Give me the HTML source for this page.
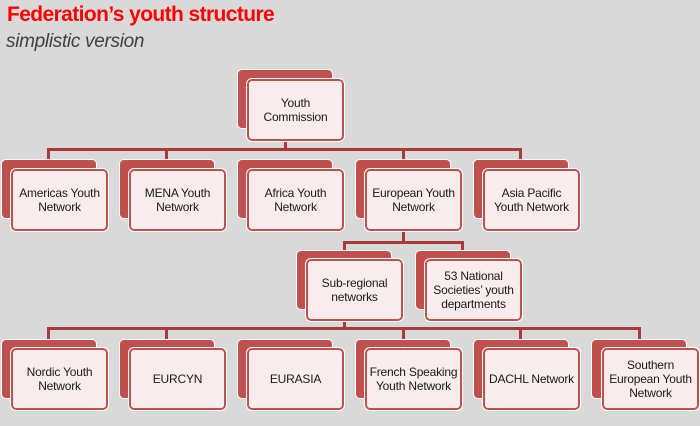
<!DOCTYPE html>
<html><head><meta charset="utf-8"><style>
body{margin:0;width:700px;height:426px;background:#d9d9d9;position:relative;overflow:hidden;font-family:"Liberation Sans",sans-serif}
.t1{position:absolute;left:7px;top:3px;font-size:21px;font-weight:bold;color:#ff0000;letter-spacing:-0.6px}
.t2{position:absolute;left:6px;top:31px;font-size:19px;font-style:italic;color:#404040;letter-spacing:-0.3px}
.b{position:absolute;width:94px;height:58px;background:#c0504d;border:1.5px solid #fff;border-radius:5px}
.f{position:absolute;width:93px;height:58px;background:#f8ecec;border:2px solid #c0504d;outline:1.5px solid #fff;border-radius:5px;display:flex;align-items:center;justify-content:center;text-align:center;font-size:12px;line-height:14px;color:#1a1a1a;letter-spacing:-0.2px}
.l{position:absolute;background:#a83a38}
</style></head><body>
<div class="t1">Federation’s youth structure</div>
<div class="t2">simplistic version</div>

<div class="l" style="left:47px;top:148px;width:474px;height:3px"></div>
<div class="l" style="left:284px;top:139px;width:3px;height:12px"></div>
<div class="l" style="left:47px;top:148px;width:3px;height:12px"></div>
<div class="l" style="left:165px;top:148px;width:3px;height:12px"></div>
<div class="l" style="left:402px;top:148px;width:3px;height:12px"></div>
<div class="l" style="left:519px;top:148px;width:3px;height:12px"></div>

<div class="l" style="left:343px;top:241px;width:121px;height:3px"></div>
<div class="l" style="left:402px;top:229px;width:3px;height:14px"></div>
<div class="l" style="left:343px;top:241px;width:3px;height:11px"></div>
<div class="l" style="left:461px;top:241px;width:3px;height:11px"></div>

<div class="l" style="left:47px;top:327px;width:594px;height:3px"></div>
<div class="l" style="left:343px;top:318px;width:3px;height:11px"></div>
<div class="l" style="left:47px;top:327px;width:3px;height:13px"></div>
<div class="l" style="left:165px;top:327px;width:3px;height:13px"></div>
<div class="l" style="left:402px;top:327px;width:3px;height:13px"></div>
<div class="l" style="left:519px;top:327px;width:3px;height:13px"></div>
<div class="l" style="left:638px;top:327px;width:3px;height:13px"></div>

<div class="b" style="left:237px;top:69px"></div><div class="f" style="left:247px;top:79px">Youth<br>Commission</div>

<div class="b" style="left:1px;top:159px"></div><div class="f" style="left:11px;top:169px">Americas Youth<br>Network</div>
<div class="b" style="left:119px;top:159px"></div><div class="f" style="left:129px;top:169px">MENA Youth<br>Network</div>
<div class="b" style="left:237px;top:159px"></div><div class="f" style="left:247px;top:169px">Africa Youth<br>Network</div>
<div class="b" style="left:355px;top:159px"></div><div class="f" style="left:365px;top:169px">European Youth<br>Network</div>
<div class="b" style="left:473px;top:159px"></div><div class="f" style="left:483px;top:169px">Asia Pacific<br>Youth Network</div>

<div class="b" style="left:296px;top:250px"></div><div class="f" style="left:306px;top:259px">Sub-regional<br>networks</div>
<div class="b" style="left:415px;top:250px"></div><div class="f" style="left:425px;top:259px">53 National<br>Societies’ youth<br>departments</div>

<div class="b" style="left:1px;top:339px"></div><div class="f" style="left:11px;top:348px">Nordic Youth<br>Network</div>
<div class="b" style="left:119px;top:339px"></div><div class="f" style="left:129px;top:348px">EURCYN</div>
<div class="b" style="left:237px;top:339px"></div><div class="f" style="left:247px;top:348px">EURASIA</div>
<div class="b" style="left:355px;top:339px"></div><div class="f" style="left:365px;top:348px">French Speaking<br>Youth Network</div>
<div class="b" style="left:473px;top:339px"></div><div class="f" style="left:483px;top:348px">DACHL Network</div>
<div class="b" style="left:591px;top:339px"></div><div class="f" style="left:602px;top:348px">Southern<br>European Youth<br>Network</div>
</body></html>
